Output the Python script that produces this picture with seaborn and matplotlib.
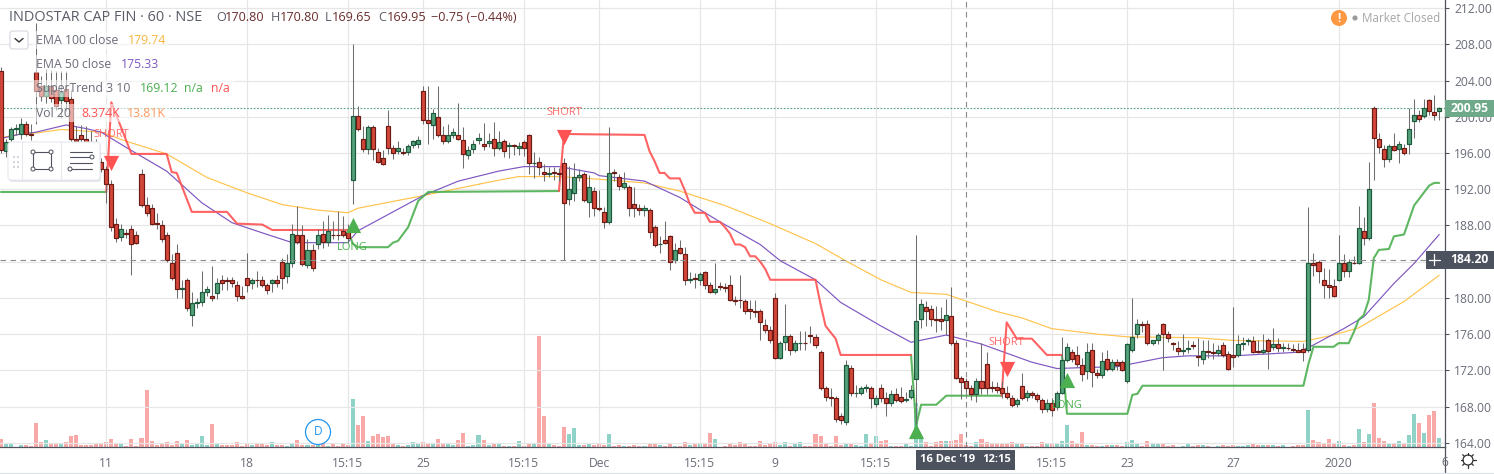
import numpy as np
import pandas as pd
import matplotlib
matplotlib.use('Agg')
import matplotlib.pyplot as plt
from matplotlib.patches import Rectangle, Circle, FancyBboxPatch
import seaborn as sns

# hourly candles (index 0 = leftmost candle)
opens = [205.1,196.2,197.6,198.6,198.1,199.2,198.1,204.9,203.4,202.3,
         203.4,203.0,201.9,203.1,202.0,197.6,198.0,197.5,197.0,196.5,
         195.0,194.2,192.6,188.2,186.7,187.2,187.6,186.9,193.7,190.3,
         189.9,188.3,188.0,187.0,183.9,185.0,181.0,182.0,178.1,179.4,
         179.5,180.6,180.2,180.5,182.0,182.0,182.0,181.4,180.2,182.2,
         181.6,182.0,182.0,181.4,181.6,182.0,184.0,182.4,183.8,187.0,
         187.0,183.6,185.3,186.0,187.1,186.2,187.0,187.0,187.4,187.3,
         193.0,200.1,197.5,196.4,198.9,196.1,195.5,199.0,196.5,196.2,
         196.1,196.1,196.9,197.0,202.9,199.6,199.1,200.0,198.0,197.3,
         198.0,198.0,197.4,195.8,196.4,197.4,197.0,197.1,197.5,196.6,
         197.3,196.8,196.85,196.5,197.2,198.0,194.9,195.0,193.9,193.7,
         193.9,193.8,194.9,190.9,191.6,193.3,193.7,190.6,191.8,189.9,
         189.5,188.4,193.9,193.3,192.3,192.3,190.4,189.9,189.7,189.7,
         187.8,185.9,186.4,186.8,184.2,185.5,184.9,182.0,182.2,182.0,
         182.9,181.4,180.7,181.3,181.2,181.4,179.8,179.8,179.7,178.8,
         178.6,178.6,177.0,176.4,180.0,173.4,175.1,175.8,174.2,175.0,
         175.05,175.9,175.7,174.0,170.0,169.0,168.9,167.0,166.3,172.3,
         169.5,169.5,170.0,170.0,168.3,170.0,168.9,168.4,169.4,169.0,
         168.7,169.0,171.0,177.7,179.0,178.8,177.7,177.7,177.6,178.0,
         175.0,171.2,170.8,170.0,169.4,170.8,172.7,170.2,170.2,170.1,
         169.5,168.9,168.3,170.3,169.0,169.5,169.3,168.7,167.7,168.4,
         167.9,169.5,173.1,174.0,173.7,172.6,171.9,174.3,171.7,171.5,
         173.3,172.1,172.9,172.9,170.8,174.2,176.0,177.1,177.1,175.0,
         175.4,177.1,176.0,175.0,174.5,174.1,174.4,174.8,173.6,173.2,
         174.1,174.0,173.9,174.8,173.8,173.7,173.7,174.9,175.2,175.2,
         174.1,174.0,175.4,174.6,174.9,174.5,174.5,174.4,174.3,174.4,
         174.2,183.8,184.0,182.0,181.4,181.3,182.0,183.8,183.0,183.9,
         183.8,187.4,186.6,201.0,197.5,196.4,195.3,196.8,196.4,196.6,
         197.0,199.5,200.2,200.1,201.9,200.5,200.6]
highs = [205.5,197.6,198.9,199.2,199.9,199.5,199.2,210.4,204.5,205.3,
         205.2,205.1,205.1,205.1,203.0,199.0,199.1,199.0,198.4,197.5,
         195.4,194.6,193.0,188.8,188.2,187.6,188.0,187.4,194.2,191.1,
         190.4,189.4,188.6,187.3,184.9,186.0,182.0,182.2,180.7,180.0,
         183.0,181.3,183.5,182.2,182.5,182.3,182.3,181.9,181.3,185.0,
         182.2,183.0,182.4,181.6,182.1,182.5,184.4,184.8,188.2,190.1,
         188.0,186.5,186.0,187.6,188.5,189.2,188.5,189.6,189.0,188.2,
         208.0,201.2,199.0,199.1,199.1,196.6,196.3,200.8,196.9,197.3,
         196.6,197.0,197.4,197.9,203.4,203.4,200.9,203.4,199.0,199.2,
         198.8,201.5,198.9,196.8,197.4,198.2,199.3,198.2,199.4,198.4,
         197.5,197.2,197.0,197.2,197.4,198.1,196.1,195.6,194.8,194.5,
         194.5,194.4,195.4,194.6,194.9,194.2,193.9,193.6,192.2,191.9,
         190.0,198.9,194.2,193.7,193.9,192.5,192.3,190.4,190.3,189.9,
         188.0,186.8,188.5,187.0,186.1,186.4,185.6,182.9,182.8,182.9,
         183.0,181.8,183.9,181.8,181.6,182.5,180.2,182.5,179.9,179.8,
         179.8,178.8,177.7,176.9,180.5,175.2,179.3,176.0,175.4,176.3,
         176.3,176.9,176.0,174.2,170.3,170.0,169.2,167.3,173.1,172.6,
         170.4,170.3,170.5,170.3,169.3,170.5,169.6,169.8,170.1,170.2,
         169.6,170.4,186.9,179.9,179.7,179.2,179.1,179.0,179.9,181.2,
         175.3,171.4,171.1,170.4,171.2,175.0,174.0,170.8,170.7,170.8,
         170.3,169.3,168.9,171.7,169.8,169.7,169.5,168.9,168.8,168.9,
         169.7,175.7,175.0,174.4,174.7,173.4,175.0,175.0,172.1,174.0,
         174.3,173.3,173.2,173.1,175.0,180.0,177.7,177.5,177.6,175.4,
         176.1,177.2,176.3,175.1,175.2,176.0,175.3,175.2,175.6,175.4,
         175.3,175.0,174.8,175.1,174.1,179.0,175.9,175.7,175.6,175.8,
         175.4,176.0,175.6,176.7,175.6,175.0,175.0,174.9,175.0,175.0,
         190.0,185.0,184.2,183.3,183.2,182.1,186.9,184.8,184.3,184.6,
         190.1,188.9,195.0,201.2,198.2,196.9,197.0,198.2,197.3,197.0,
         201.0,202.0,200.7,202.0,202.0,202.4,201.1]
lows = [196.0,195.6,196.8,198.0,197.6,197.9,197.4,199.2,201.8,201.5,
        201.6,200.8,199.9,200.6,197.2,197.0,197.0,196.5,195.8,195.2,
        193.9,190.5,187.4,186.2,186.3,186.6,182.5,185.9,190.0,189.0,
        188.0,187.6,186.2,184.0,182.0,180.0,180.0,178.5,176.9,178.9,
        179.1,180.2,179.7,179.9,180.9,180.9,181.2,179.7,179.9,180.6,
        181.0,181.2,181.2,180.4,180.7,181.2,181.0,181.7,183.4,186.0,
        183.5,183.3,183.0,185.4,185.5,185.7,186.5,186.4,186.7,186.2,
        190.4,198.4,196.1,195.9,195.2,194.9,194.7,195.9,195.3,195.9,
        195.8,195.8,196.6,196.5,199.2,197.0,197.6,197.8,197.0,197.1,
        197.7,197.4,194.4,195.3,196.0,197.0,196.3,196.7,195.7,196.3,
        195.6,195.5,195.8,195.8,195.7,193.7,193.2,193.6,192.9,193.3,
        193.0,192.9,184.2,190.3,190.7,192.9,190.6,188.9,189.0,189.6,
        187.7,188.2,192.9,191.9,192.0,189.1,188.9,189.2,189.0,186.6,
        185.6,185.0,186.0,183.1,183.9,184.8,181.4,181.7,181.1,181.4,
        181.0,180.5,180.4,180.9,180.6,179.7,179.2,178.9,178.2,177.7,
        177.9,175.3,176.1,175.0,173.2,173.2,174.2,173.7,174.0,174.2,
        174.3,175.0,174.5,169.8,168.6,168.1,166.3,166.1,166.0,169.2,
        169.1,169.3,169.6,167.8,167.9,168.5,167.0,168.1,168.5,168.4,
        168.5,168.8,165.5,176.7,176.9,176.9,176.2,176.5,175.9,174.8,
        171.0,168.8,168.9,168.7,168.5,169.4,169.4,169.6,169.5,168.9,
        168.8,168.0,168.0,168.7,168.6,168.9,168.5,167.3,167.4,167.0,
        167.6,169.4,172.9,172.9,172.4,170.8,171.0,170.2,171.2,171.2,
        171.9,171.9,172.0,171.9,170.6,174.0,175.6,176.2,174.8,174.8,
        174.9,172.0,175.1,174.2,173.7,173.7,173.9,174.4,172.5,172.7,
        173.4,173.3,173.6,173.5,172.0,172.4,173.5,174.2,174.8,173.9,
        173.9,173.8,172.1,174.3,174.0,174.0,174.2,174.0,174.0,173.0,
        174.0,182.4,181.6,180.0,180.0,180.1,181.9,182.3,182.3,183.7,
        183.7,185.8,186.4,193.0,196.0,194.5,195.0,196.2,194.9,195.8,
        195.9,197.7,199.4,199.9,200.2,199.7,199.7]
closes = [196.3,197.2,198.6,198.8,199.2,198.1,198.0,202.9,202.3,203.4,
          202.1,201.2,202.7,201.8,197.5,197.3,197.5,197.0,196.5,195.8,
          194.2,192.6,187.8,186.6,187.6,187.1,186.0,186.1,190.3,189.4,
          188.2,188.2,186.5,184.2,182.2,181.0,181.1,178.9,179.4,179.5,
          180.6,181.0,180.0,181.6,181.7,181.9,181.6,180.2,180.0,181.4,
          182.0,181.95,181.4,180.9,182.0,181.6,182.2,183.8,187.1,186.2,
          183.7,185.3,183.3,186.9,186.2,187.4,186.95,186.95,187.0,186.6,
          200.1,198.7,196.4,198.9,196.4,195.0,194.8,196.5,196.0,196.6,
          196.0,196.8,197.3,197.4,199.6,199.3,200.4,198.0,197.3,198.0,
          198.3,197.6,195.9,196.3,197.0,197.7,196.8,197.3,196.6,197.2,
          196.2,196.85,196.8,196.8,196.6,194.9,194.95,194.5,193.7,193.75,
          193.8,193.7,190.5,192.0,193.3,193.6,190.8,192.3,189.9,189.8,
          188.4,193.8,193.8,192.4,192.7,189.9,189.9,189.7,189.9,187.3,
          185.8,186.0,186.1,184.0,185.3,185.0,182.0,182.05,182.1,182.6,
          181.4,180.7,181.0,181.2,181.1,179.8,179.7,179.75,178.6,178.5,
          178.4,177.3,176.4,175.4,173.4,175.0,175.8,174.2,175.0,175.05,
          175.0,175.8,174.8,170.0,169.0,168.95,166.6,166.5,172.6,169.5,
          169.55,170.0,170.2,168.9,168.9,168.9,168.4,169.4,168.7,168.6,
          168.85,169.8,177.4,179.3,178.6,177.7,177.6,177.5,178.1,175.0,
          171.2,170.7,170.0,169.4,170.8,170.0,170.0,170.0,169.8,169.5,
          169.0,168.2,168.7,168.9,169.5,169.3,168.8,167.7,168.4,167.6,
          169.5,173.1,174.6,173.2,172.7,171.6,174.0,171.8,171.5,173.0,
          172.1,172.9,172.6,172.0,174.9,175.7,177.1,177.05,175.0,175.3,
          175.9,176.0,175.6,174.9,174.1,174.3,174.5,174.7,173.5,174.1,
          174.0,173.9,174.3,173.7,172.1,173.5,174.9,175.0,175.3,174.0,
          174.0,174.2,174.1,174.9,174.5,174.55,174.45,174.3,174.0,174.0,
          183.9,183.6,183.0,181.4,181.2,180.2,183.8,183.0,184.0,183.8,
          187.7,186.6,192.0,197.7,196.7,195.3,196.8,196.3,197.0,196.0,
          198.6,200.2,199.8,201.0,200.6,200.2,200.95]
# volume in thousands
volumes = [7.8,4.3,3.4,0.3,2.2,2.2,1.2,22.6,5.0,6.8,
           3.1,4.3,4.3,5.0,10.5,11.5,2.2,2.2,2.2,4.0,
           4.0,5.0,7.8,3.1,3.1,1.2,7.8,1.2,8.7,53.3,
           5.9,2.2,3.1,5.0,2.2,5.9,4.0,6.8,2.2,3.1,
           10.5,2.2,21.7,3.1,2.2,2.2,2.2,5.0,1.2,3.1,
           2.2,3.1,4.0,2.2,5.0,2.2,2.2,1.2,4.0,6.8,
           2.2,2.2,2.2,3.1,3.1,1.2,3.1,1.2,3.1,2.2,
           45.0,20.8,29.1,5.9,10.5,12.4,9.6,10.5,3.1,2.2,
           1.2,2.2,5.0,4.0,5.0,3.1,3.1,7.8,4.0,3.1,
           2.2,6.8,13.3,1.2,2.2,11.5,6.8,2.2,4.0,3.1,
           1.0,1.0,1.0,5.9,1.0,4.0,4.0,103.5,29.1,3.1,
           2.2,1.2,18.9,12.4,18.0,2.2,2.2,3.1,2.2,3.1,
           2.2,12.4,1.2,2.2,1.2,1.2,2.2,1.2,1.2,4.0,
           3.1,2.2,1.2,3.1,1.2,1.2,5.0,2.2,4.0,3.1,
           4.0,13.3,7.8,0.6,1.2,4.0,2.2,5.0,4.0,1.2,
           1.2,5.9,2.2,3.1,5.0,2.2,5.0,1.2,3.1,5.0,
           1.2,1.2,12.4,10.5,3.1,1.2,10.5,2.2,4.0,3.1,
           2.2,1.2,12.4,3.1,10.5,5.9,6.8,1.2,1.2,1.2,
           3.1,1.2,41.0,10.5,5.0,1.2,5.0,5.9,5.9,5.9,
           6.8,12.4,2.2,1.2,5.0,7.8,5.0,4.0,3.1,3.1,
           3.7,4.6,4.0,4.0,1.2,1.2,1.2,4.6,3.1,3.1,
           3.4,5.9,20.8,5.9,4.3,14.3,2.5,2.5,1.2,1.2,
           2.2,2.2,2.2,1.2,5.3,6.8,3.4,1.2,5.9,3.4,
           3.4,2.8,1.2,2.2,0.3,1.2,3.1,1.2,2.2,2.2,
           1.2,0.3,1.2,1.8,1.2,2.2,1.2,1.2,2.2,3.1,
           2.2,2.2,2.2,2.2,1.2,2.2,0.3,1.2,2.2,2.2,
           34.7,6.8,5.0,3.1,7.8,3.1,5.9,2.2,1.2,2.2,
           17.0,5.0,12.4,41.2,8.7,5.9,4.0,3.1,5.9,4.0,
           11.5,31.0,22.6,13.3,30.0,33.8,8.7]

# EMA and SuperTrend vertices: candle index, price
ema100_idx = [0,4,7,12,15,20,25,33,41,49,56,63,69,71,84,99,103,111,119,128,135,144,153,162,168,
              175,181,188,198,203,209,218,224,238,245,259,265,270,279,286]
ema100_val = [197.7,198.1,198.2,198.6,198.5,198.3,197.3,195.9,193.3,191.6,190.3,189.7,189.4,189.9,
              191.3,193.0,193.4,193.4,193.1,192.7,191.8,190.2,188.2,186.0,184.1,182.0,180.6,180.4,
              178.5,177.8,176.6,176.0,175.7,175.6,175.3,175.2,175.9,176.7,179.6,182.5]
ema50_idx = [0,4,7,10,13,17,20,25,33,40,46,53,58,69,71,76,84,91,99,104,111,118,119,128,135,143,151,
             155,162,167,175,181,188,195,199,205,210,215,222,231,236,245,258,261,267,271,277,281,286]
ema50_val = [197.6,198.1,198.3,198.7,199.1,198.7,198.3,196.6,194.0,190.5,188.3,187.0,186.1,186.1,
             187.4,188.9,191.3,192.9,194.0,194.5,194.5,193.8,193.5,192.9,191.1,188.4,185.9,184.1,
             182.0,179.5,176.9,175.1,175.9,174.9,174.1,172.9,172.2,172.3,172.4,173.4,173.6,173.6,
             174.0,174.8,176.6,177.9,181.6,183.8,187.0]
st_up_segments = [
    ([0,21], [191.7,191.7]),
    ([69,70,71,77,78,79,81,83,85,111], [187.5,186.0,185.6,185.6,186.1,186.3,187.8,190.7,191.7,191.8]),
    ([181,182,183,186,188,199], [173.7,165.9,168.2,168.2,169.2,169.2]),
    ([211,212,224,225,226,227,259,260,261,265,266,268,269,270,271,272,273,274,276,277,279,281,284,285,286],
     [173.7,167.2,167.2,169.3,169.4,170.3,170.3,172.7,174.6,174.6,175.0,175.0,176.2,177.6,178.1,179.8,
      184.4,185.3,185.4,186.8,187.0,190.2,192.4,192.7,192.7]),
]
st_down_segments = [
    ([21,22,26,33,34,35,38,45,47,52,54,69], [191.7,201.6,195.9,195.9,193.9,193.8,189.5,189.5,188.2,188.1,187.5,187.5]),
    ([111,112,128,129,130,131,132,133,135,136,137,138,140,141,143,144,145,146,147,148,149,150,151,152,153,162,163,164,166,167,181],
     [191.8,198.1,198.0,196.2,195.1,193.8,193.8,193.2,193.2,191.9,190.4,189.4,189.4,188.4,188.4,187.8,187.1,185.9,
      185.9,185.6,184.6,184.6,184.0,183.2,182.0,182.0,179.3,176.9,175.5,173.7,173.7]),
    ([199,200,202,205,208,211], [169.2,177.3,175.5,175.5,173.7,173.7]),
]
short_idx = [22, 112, 200]
short_price = [194.9, 197.8, 172.2]
short_label_price = [198.0, 200.5, 175.1]
long_idx = [70, 182, 212]
long_price = [188.1, 165.3, 170.9]
long_label_idx = [70, 212]
long_label_price = [185.6, 168.1]

price_ticks = list(range(164, 216, 4))
time_tick_idx = [21, 49, 69, 84, 104, 119, 139, 154, 174, 189, 209, 224, 245, 266]
time_tick_labels = ['11', '18', '15:15', '25', '15:15', 'Dec', '15:15', '9', '15:15', '', '15:15', '23', '27', '2020']
last_price = 200.95
cross_price = 184.20
cross_idx = 192

assert len(opens) == len(highs) == len(lows) == len(closes) == len(volumes) == 287

UI_FONT = ['Open Sans', 'DejaVu Sans']
sns.set_theme(style='white')
plt.rcParams['font.family'] = UI_FONT

df = pd.DataFrame({'idx': np.arange(len(opens)), 'open': opens, 'high': highs, 'low': lows,
                   'close': closes, 'vol': volumes})
df['down'] = df['close'] < df['open']

GRID = '#e6e6e6'
AXIS = '#50535e'
LABEL = '#6a6d78'
C_UP, C_UP_EDGE = '#53a07a', '#1d5a3c'
C_DN, C_DN_EDGE = '#d3463a', '#6b1a14'
ST_GREEN, ST_RED = '#4caf50', '#ff5252'

W, H = 1494, 474
fig = plt.figure(figsize=(W / 100, H / 100), dpi=100, facecolor='white')
rect = [0, (H - 447.3) / H, 1444.5 / W, 447.3 / H]
x_range = (-0.133, 287.05)

# volume sits behind the price pane
ax_vol = fig.add_axes(rect, zorder=1)
sns.barplot(data=df, x='idx', y='vol', hue='down', palette={False: '#8fd3c8', True: '#f8a9a7'},
            dodge=False, native_scale=True, legend=False, width=0.8, saturation=1,
            edgecolor='none', linewidth=0, ax=ax_vol)
ax_vol.set_xlim(*x_range)
ax_vol.set_ylim(0, 447.3 * 0.93)
ax_vol.axis('off')

ax = fig.add_axes(rect, zorder=2)
ax.patch.set_alpha(0)
ax.set_axisbelow(True)

ax.vlines(df['idx'], df['low'], df['high'], color='#6e6e6e', lw=0.75, zorder=3.0)
for down, edge, fill in [(False, C_UP_EDGE, C_UP), (True, C_DN_EDGE, C_DN)]:
    part = df[df['down'] == down]
    ax.bar(part['idx'], (part['close'] - part['open']).abs(), bottom=part[['open', 'close']].min(axis=1),
           width=0.8, color=fill, edgecolor=edge, linewidth=0.85, zorder=3.1)

sns.lineplot(x=ema100_idx, y=ema100_val, color='#ffc34d', lw=0.85, estimator=None, sort=False, ax=ax, zorder=2.4)
sns.lineplot(x=ema50_idx, y=ema50_val, color='#7e57c2', lw=0.85, estimator=None, sort=False, ax=ax, zorder=2.5)
for xs, ys in st_up_segments:
    sns.lineplot(x=xs, y=ys, color=ST_GREEN, lw=1.5, alpha=0.9, estimator=None, sort=False, ax=ax, zorder=2.6)
for xs, ys in st_down_segments:
    sns.lineplot(x=xs, y=ys, color=ST_RED, lw=1.5, alpha=0.9, estimator=None, sort=False, ax=ax, zorder=2.6)

ax.scatter(short_idx, short_price, marker='v', s=120, color=ST_RED, linewidths=0, zorder=3.3)
ax.scatter(long_idx, long_price, marker='^', s=120, color=ST_GREEN, linewidths=0, zorder=3.3)
for i, p in zip(short_idx, short_label_price):
    ax.text(i, p, 'SHORT', color=ST_RED, alpha=0.85, fontsize=8, ha='center', va='center', zorder=3.4)
for i, p in zip(long_label_idx, long_label_price):
    ax.text(i, p, 'LONG', color=ST_GREEN, fontsize=8, ha='center', va='center', zorder=3.4)

ax.axhline(last_price, color='#53a07a', lw=0.8, ls=(0, (1.5, 1.5)), zorder=2.2)
ax.axhline(cross_price, color='#8a8a8a', lw=0.8, ls=(0, (5, 4)), zorder=4)
ax.axvline(cross_idx, color='#8a8a8a', lw=0.8, ls=(0, (5, 4)), zorder=4)

ax.set_xlim(*x_range)
ax.set_ylim(163.5, 212.9)
ax.set_yticks(price_ticks)
ax.set_yticklabels(['' if t == 184 else f'{t:.2f}' for t in price_ticks], fontsize=8.7, color=LABEL)
ax.set_xticks(time_tick_idx)
ax.set_xticklabels(time_tick_labels, fontsize=8.7, color=LABEL)
ax.yaxis.tick_right()
ax.grid(True, color=GRID, lw=0.85)
ax.tick_params(axis='both', length=3, width=0.8, color=AXIS, pad=4)
ax.set_xlabel('')
ax.set_ylabel('')
for side in ['left', 'top']:
    ax.spines[side].set_visible(False)
for side in ['right', 'bottom']:
    ax.spines[side].set_color(AXIS)
    ax.spines[side].set_linewidth(0.9)

# screen chrome on a pixel-sized overlay
ov = fig.add_axes([0, 0, 1, 1], zorder=5)
ov.set_xlim(0, W)
ov.set_ylim(H, 0)
ov.axis('off')
ov.patch.set_alpha(0)

def label(x, y, s, color='#555a66', size=8.8, **kw):
    kw.setdefault('ha', 'left')
    kw.setdefault('va', 'center')
    return ov.text(x, y, s, color=color, fontsize=size, **kw)

# header
label(9, 17, 'INDOSTAR CAP FIN · 60 · NSE', size=10.45, color='#5a5d68')
for x, letter, val in [(216, 'O', '170.80'), (271, 'H', '170.80'), (325, 'L', '169.65'), (378, 'C', '169.95')]:
    label(x, 17, letter, color='#5a5d68', size=9.1)
    label(x + {'O': 9, 'H': 9, 'L': 7, 'C': 9}[letter], 17, val, color='#6b2d2d', size=9.1)
label(431, 17, '−0.75 (−0.44%)', color='#6b2d2d', size=9.1)

# indicator legend, the rows wash out the candles behind them
for x1, y1, x2, y2 in [(33, 31, 168, 49), (33, 55, 160, 73), (33, 80, 235, 97), (33, 104, 170, 122)]:
    ov.add_patch(Rectangle((x1, y1), x2 - x1, y2 - y1, fc='white', ec='none', alpha=0.55))
ov.add_patch(FancyBboxPatch((10, 31), 18, 18, boxstyle='round,pad=0,rounding_size=2.5', fc='white', ec='#d5d8e0', lw=0.8))
ov.plot([15, 19, 23], [38.5, 42, 38.5], color='#333', lw=1)
label(36, 40, 'EMA 100 close', color='#6a6d78')
label(128, 40, '179.74', color='#f9b53f')
label(36, 64.5, 'EMA 50 close', color='#6a6d78')
label(121, 64.5, '175.33', color='#7e57c2')
label(36, 88.5, 'SuperTrend 3 10', color='#6a6d78')
label(140, 88.5, '169.12', color=ST_GREEN)
label(184, 88.5, 'n/a', color=ST_GREEN)
label(211, 88.5, 'n/a', color=ST_RED)
label(36, 113, 'Vol 20', color='#6a6d78')
label(81, 113, '8.374K', color=ST_RED)
label(127, 113, '13.81K', color='#ff9a5c')

# drawing toolbar
ov.add_patch(FancyBboxPatch((9, 144), 92, 38, boxstyle='round,pad=0,rounding_size=3', fc='#9aa0ad', ec='none', alpha=0.25))
ov.add_patch(FancyBboxPatch((8, 142), 92, 38, boxstyle='round,pad=0,rounding_size=3', fc='white', ec='#e6e8ee', lw=0.8))
ov.plot([22, 22], [142, 180], color='#e6e8ee', lw=0.8)
ov.plot([61, 61], [142, 180], color='#e6e8ee', lw=0.8)
for dx in (13, 17):
    for dy in (156, 161, 166):
        ov.add_patch(Rectangle((dx, dy), 2, 2, fc='#d0d3da', ec='none'))
ov.add_patch(Rectangle((33, 152), 18, 17, fc='none', ec='#50535e', lw=0.8))
for cx, cy in [(33, 152), (51, 152), (33, 169), (51, 169)]:
    ov.add_patch(Circle((cx, cy), 2, fc='white', ec='#50535e', lw=0.7, zorder=3))
for ly in (152, 157, 163, 169):
    ov.plot([70, 92], [ly, ly], color='#50535e', lw=0.8)
for cx, cy in [(92, 157), (70, 169)]:
    ov.add_patch(Circle((cx, cy), 2, fc='white', ec='#50535e', lw=0.7, zorder=3))

# market status
ov.add_patch(Circle((1339, 18), 8, fc='#ff9843', ec='none'))
label(1339, 18, '!', color='white', size=8.5, ha='center', fontweight='bold')
ov.add_patch(Circle((1355, 18), 2.6, fc='#9b9b9b', ec='none'))
label(1362, 18, 'Market Closed', color='#a6a6a6', size=8.35)

# dividend marker
ov.add_patch(Circle((318, 432), 12.5, fc='white', ec='#2196f3', lw=0.9))
label(318, 431.5, 'D', color='#2196f3', size=8.6, ha='center')

# axis price boxes
ov.add_patch(Rectangle((1445, 100), 49, 16.5, fc='#6eaa89', ec='none'))
label(1469.5, 108, '200.95', color='white', size=8.7, ha='center', fontweight='bold')
ov.add_patch(Rectangle((1426, 251), 68, 17.5, fc='#4c525e', ec='none'))
ov.plot([1434, 1434], [254, 265], color='white', lw=0.9)
ov.plot([1428.5, 1439.5], [259.6, 259.6], color='white', lw=0.9)
label(1469.5, 259.6, '184.20', color='white', size=8.7, ha='center', fontweight='bold')

# crosshair date box
ov.add_patch(Rectangle((916, 450), 99, 20, fc='#4c525e', ec='none'))
label(947.5, 459.5, "16 Dec '19", color='white', size=8, ha='center', fontweight='bold')
label(997, 459.5, '12:15', color='white', size=8, ha='center', fontweight='bold')

# the next time label, cut off by the price scale
cut = label(1441, 462, '6', color=LABEL, size=8.7, ha='left')
cut.set_clip_path(Rectangle((0, 0), 1444, H, transform=ov.transData))

# frame bits and settings wheel
ov.plot([1444.5, 1444.5], [447, 474], color=AXIS, lw=0.9)
ov.plot([0, W], [473, 473], color='#e0e3eb', lw=0.9)
ov.add_patch(Circle((1468, 460), 5, fc='white', ec='#333', lw=0.9))
for a in np.arange(0, 360, 45):
    ca, sa = np.cos(np.radians(a)), np.sin(np.radians(a))
    ov.plot([1468 + 5 * ca, 1468 + 7.5 * ca], [460 + 5 * sa, 460 + 7.5 * sa], color='#333', lw=0.9)

fig.savefig('out.png', dpi=100)
